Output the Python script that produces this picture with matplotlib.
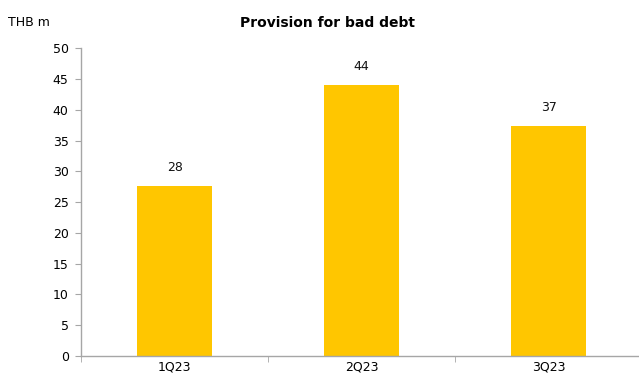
import numpy as np
import matplotlib.pyplot as plt

quarters = ['1Q23', '2Q23', '3Q23']
provision = [27.6, 44.0, 37.3]
labels = ['28', '44', '37']

bar_color = '#FFC600'
axis_color = '#A6A6A6'

fig = plt.figure(figsize=(6.39, 3.76), dpi=100)
ax = fig.add_axes([0.127, 0.053, 0.878, 0.819])

x = np.arange(len(quarters))
bars = ax.bar(x, provision, width=0.4, color=bar_color, zorder=2)

for b, lab in zip(bars, labels):
    ax.text(b.get_x() + b.get_width() / 2, b.get_height() + 2.0, lab,
            ha='center', va='bottom', fontsize=9, color='#111111')

ax.set_xlim(-0.5, 2.5)
ax.set_ylim(0, 50)
ax.set_yticks(np.arange(0, 51, 5))
ax.set_xticks(x)
ax.set_xticklabels(quarters)
ax.set_xticks([-0.5, 0.5, 1.5, 2.5], minor=True)

ax.tick_params(axis='y', direction='out', length=4, color=axis_color,
               labelsize=9, pad=5)
ax.tick_params(axis='x', which='major', length=0, labelsize=9, pad=3)
ax.tick_params(axis='x', which='minor', direction='out', length=4,
               color=axis_color)

for side in ['top', 'right']:
    ax.spines[side].set_visible(False)
for side in ['left', 'bottom']:
    ax.spines[side].set_color(axis_color)
    ax.spines[side].set_linewidth(1.0)

fig.text(0.513, 0.94, 'Provision for bad debt', ha='center', va='center',
         fontsize=10, fontweight='bold')
fig.text(0.012, 0.94, 'THB m', ha='left', va='center', fontsize=9)

fig.savefig('out.png', dpi=100)
